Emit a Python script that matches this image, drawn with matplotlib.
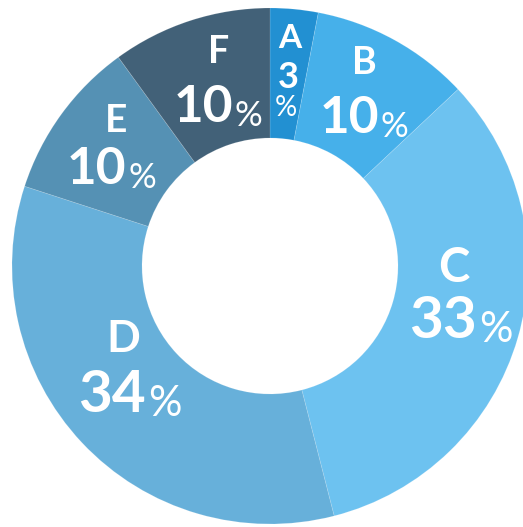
import matplotlib
matplotlib.use("Agg")
from matplotlib import pyplot as plt

# data
categories = ["A", "B", "C", "D", "E", "F"]
shares = [3, 10, 33, 34, 10, 10]
colors = ["#2290d2", "#46b0ea", "#6dc2f0", "#67b0da", "#5591b4", "#426178"]

W, H = 523, 527
CX, CY = 270, H - 266   # donut centre in pixel units
R_OUT, R_IN = 258, 128

# label layout (pixel coords, y from top): letter centre, number right edge / baseline
letter_pos = {"B": (364, 63), "C": (454, 268), "D": (123, 339), "E": (116, 120), "F": (219, 52)}
number_pos = {"B": (379, 133), "C": (477, 338), "D": (146, 412), "E": (126, 184), "F": (233, 122)}
letter_size = {"B": 27, "C": 34, "D": 32, "E": 28, "F": 27}
number_size = {"B": 37, "C": 42, "D": 42, "E": 37, "F": 37}
pct_size = {"B": 25, "C": 30, "D": 30, "E": 25, "F": 25}

fig = plt.figure(figsize=(W / 100, H / 100), dpi=100)
ax = fig.add_axes([0, 0, 1, 1])

ax.pie(shares, colors=colors, startangle=90, counterclock=False,
       center=(CX, CY), radius=R_OUT, frame=True,
       wedgeprops=dict(width=R_OUT - R_IN, linewidth=0.6, edgecolor=(1, 1, 1, 0.15)))

ax.set_xlim(0, W)
ax.set_ylim(0, H)
ax.set_aspect("equal")
ax.axis("off")

font = "Lato"
txt = dict(color="white", fontweight="bold", family=font)

for cat, val in zip(categories, shares):
    if cat == "A":
        # narrow slice: stacked characters
        ax.text(290, H - 38, cat, ha="center", va="center", fontsize=24, **txt)
        ax.text(288, H - 77, str(val), ha="center", va="center", fontsize=26, **txt)
        ax.text(286, H - 108, "%", ha="center", va="center", fontsize=20, color="white", family=font)
        continue
    lx, ly = letter_pos[cat]
    ax.text(lx, H - ly, cat, ha="center", va="center", fontsize=letter_size[cat], **txt)
    nx, ny = number_pos[cat]
    ax.text(nx, H - ny, str(val), ha="right", va="baseline", fontsize=number_size[cat], **txt)
    ax.text(nx + 2, H - ny - 4, "%", ha="left", va="baseline", fontsize=pct_size[cat],
            color="white", family=font)

plt.savefig("out.png", dpi=100)
